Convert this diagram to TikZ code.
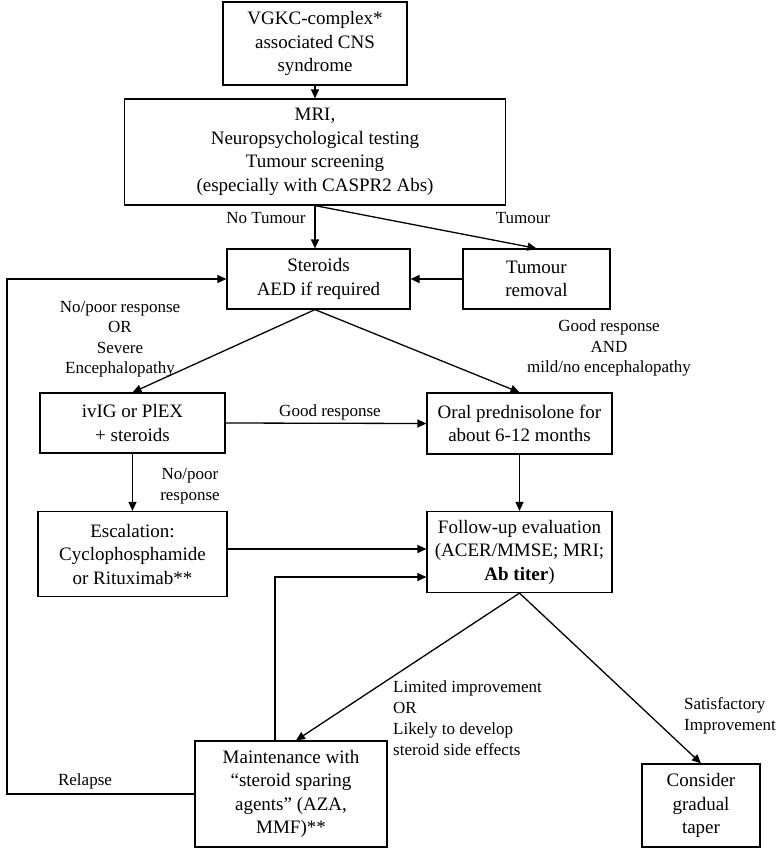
\documentclass[tikz,border=0pt]{standalone}
\usepackage{fontspec}
\setmainfont{Liberation Serif}
\usetikzlibrary{arrows.meta}
\begin{document}
\begin{tikzpicture}[x=1pt,y=-1pt,
  box/.style={draw,line width=1.2pt,align=center,inner sep=0pt,font=\fontsize{19}{23.5}\selectfont},
  lbl/.style={align=center,inner sep=0pt,font=\fontsize{17}{20.5}\selectfont},
  lbll/.style={align=left,inner sep=0pt,font=\fontsize{17}{21}\selectfont},
  arr/.style={line width=1.3pt,-{Triangle[length=9pt,width=8pt]}},
  ln/.style={line width=1.3pt}]
\useasboundingbox (0,0) rectangle (780,848);
\node[box,minimum width=184,minimum height=83] (b1) at (315,43.5) {VGKC-complex*\\associated CNS\\syndrome};
\node[box,minimum width=381,minimum height=106] (b2) at (315,152) {MRI,\\Neuropsychological testing\\Tumour screening\\(especially with CASPR2 Abs)};
\node[box,minimum width=183,minimum height=60] (st) at (318.5,279) {Steroids\\AED if required};
\node[box,minimum width=147,minimum height=60] (tu) at (536.5,279) {Tumour\\removal};
\node[box,minimum width=185,minimum height=60] (iv) at (132.5,423) {ivIG or PlEX\\+ steroids};
\node[box,minimum width=185,minimum height=61] (op) at (519.5,423.5) {Oral prednisolone for\\about 6-12 months};
\node[box,minimum width=189,minimum height=85] (es) at (132.5,554) {Escalation:\\Cyclophosphamide\\or Rituximab**};
\node[box,minimum width=185,minimum height=81] (fu) at (519.5,552) {Follow-up evaluation\\(ACER/MMSE; MRI;\\\textbf{Ab titer})};
\node[box,minimum width=192,minimum height=106] (mt) at (291,794) {Maintenance with\\``steroid sparing\\agents'' (AZA,\\MMF)**};
\node[box,minimum width=118,minimum height=83] (co) at (701,805.5) {Consider\\gradual\\taper};

\node[lbl] (lnt) at (266,218) {No Tumour};
\node[lbl] (lt) at (523,218) {Tumour};
\node[lbl] (lnp) at (120,339) {No/poor response\\OR\\Severe\\Encephalopathy};
\node[lbl] (lgr) at (609,348) {Good response\\AND\\mild/no encephalopathy};
\node[lbl] (lgr2) at (330,412) {Good response};
\node[lbl] (lnp2) at (190,486) {No/poor\\response};
\node[lbll,anchor=north west] (lli) at (393,680) {Limited improvement\\OR\\Likely to develop\\steroid side effects};
\node[lbll,anchor=north west] (lsi) at (684,697) {Satisfactory\\Improvement};
\node[lbl] (lre) at (85,781) {Relapse};

\draw[arr] (b1.south) -- (b1.south |- b2.north);
\draw[arr] (b2.south) -- (st.north -| b2.south);
\draw[arr] (b2.south) -- (tu.north);
\draw[arr] (tu.west) -- (st.east |- tu.west);
\draw[arr] (st.south -| b2.south) -- (iv.north);
\draw[arr] (st.south -| b2.south) -- (op.north);
\draw[arr] (iv.east) -- (op.west);
\draw[arr] (iv.south) -- (es.north);
\draw[arr] (op.south) -- (fu.north);
\draw[arr] (es.east |- 0,549) -- (fu.west |- 0,549);
\coordinate (ml) at ([xshift=-16pt]mt.north);
\draw[arr] (ml) -- (ml |- 0,577) -- (fu.west |- 0,577);
\draw[arr] (fu.south) -- ([xshift=5pt]mt.north);
\draw[arr] (fu.south) -- (co.north);
\coordinate (rl) at (7,0);
\draw[arr] (mt.west) -- (rl |- mt.west) -- (rl |- st.west) -- (st.west);
\end{tikzpicture}
\end{document}
